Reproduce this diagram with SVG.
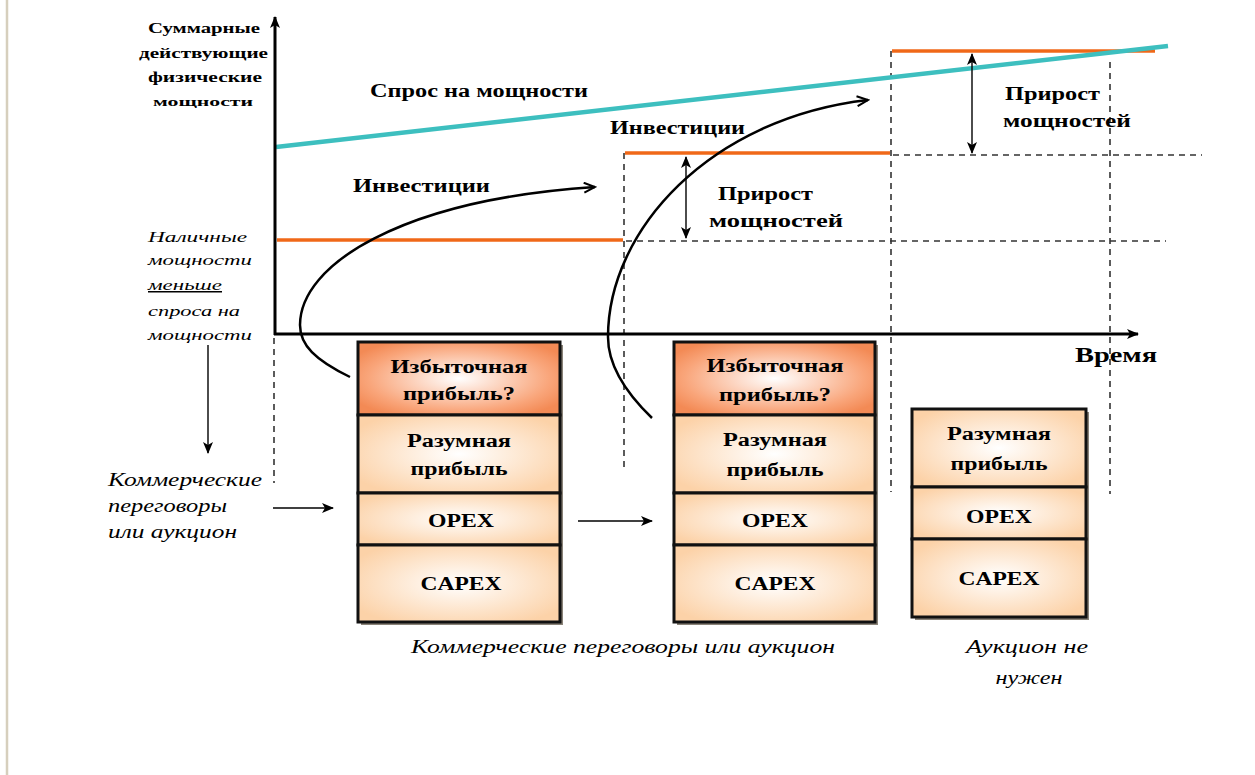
<svg xmlns="http://www.w3.org/2000/svg" width="1255" height="775" viewBox="0 0 1255 775">
<defs>
<style>
.b{font-family:"Liberation Serif","Times New Roman",serif;font-weight:bold;fill:#000}
.i{font-family:"Liberation Serif","Times New Roman",serif;font-style:italic;fill:#000}
.dash{stroke:#333;stroke-width:1.6;stroke-dasharray:6,5;fill:none}
.org{stroke:#f06818;stroke-width:3.5;fill:none}
.cell{fill:url(#peach);stroke:#111;stroke-width:3}
.top{fill:url(#hot);stroke:#111;stroke-width:3}
.curve{stroke:#000;stroke-width:2.5;fill:none}
.thin{stroke:#000;stroke-width:1.4;fill:none}
</style>
<radialGradient id="peach" cx="50%" cy="50%" r="60%">
<stop offset="0" stop-color="#ffffff"/>
<stop offset="1" stop-color="#fcd2a8"/>
</radialGradient>
<radialGradient id="hot" cx="50%" cy="50%" r="60%">
<stop offset="0" stop-color="#ffffff"/>
<stop offset="0.75" stop-color="#f9a57a"/>
<stop offset="1" stop-color="#f38a55"/>
</radialGradient>
<marker id="ah" markerWidth="12" markerHeight="10" refX="11" refY="5" orient="auto" markerUnits="userSpaceOnUse">
<path d="M0,0 L12,5 L0,10 L3,5 Z" fill="#000"/>
</marker>
<marker id="ahs" markerWidth="12" markerHeight="10" refX="1" refY="5" orient="auto" markerUnits="userSpaceOnUse">
<path d="M12,0 L0,5 L12,10 L9,5 Z" fill="#000"/>
</marker>
<marker id="open" markerWidth="14" markerHeight="12" refX="12" refY="6" orient="auto" markerUnits="userSpaceOnUse">
<path d="M1,1 L12,6 L1,11" fill="none" stroke="#000" stroke-width="2"/>
</marker>
</defs>
<rect width="1255" height="775" fill="#ffffff"/>
<line x1="7" y1="0" x2="7" y2="775" stroke="#d6cfbd" stroke-width="2.5"/>

<g id="guides">
<line class="dash" x1="274" y1="338" x2="274" y2="483"/>
<line class="dash" x1="624" y1="153" x2="624" y2="470"/>
<line class="dash" x1="891" y1="51" x2="891" y2="492"/>
<line class="dash" x1="1110" y1="62" x2="1110" y2="494"/>
<line class="dash" x1="626" y1="241" x2="1166" y2="241"/>
<line class="dash" x1="893" y1="155" x2="1202" y2="155"/>
</g>

<g id="capacity">
<line class="org" x1="277" y1="240" x2="623" y2="240"/>
<line class="org" x1="625" y1="153" x2="890" y2="153"/>
<line class="org" x1="892" y1="51" x2="1155" y2="51"/>
</g>

<g id="demand">
<line x1="276" y1="147" x2="1168" y2="46" stroke="#3dbfbf" stroke-width="4.5"/>
</g>

<g id="axes">
<line x1="275" y1="335" x2="275" y2="17" stroke="#000" stroke-width="3" marker-end="url(#ah)"/>
<line x1="274" y1="334" x2="1138" y2="334" stroke="#000" stroke-width="3" marker-end="url(#ah)"/>
</g>

<g id="connectors">
<path class="curve" d="M350,377 C315,360 300,345 300,325 C300,265 400,200 595,187" marker-end="url(#open)"/>
<path class="curve" d="M652,418 C625,392 608,365 608,337 C608,230 710,118 868,100" marker-end="url(#open)"/>
<line class="thin" x1="686" y1="157" x2="686" y2="238" marker-start="url(#ahs)" marker-end="url(#ah)"/>
<line class="thin" x1="972" y1="54" x2="972" y2="153" marker-start="url(#ahs)" marker-end="url(#ah)"/>
<line class="thin" x1="208" y1="345" x2="208" y2="453" marker-end="url(#ah)"/>
<line class="thin" x1="273" y1="508" x2="333" y2="508" marker-end="url(#ah)"/>
<line class="thin" x1="578" y1="521" x2="652" y2="521" marker-end="url(#ah)"/>
</g>

<g id="axis-labels">
<text class="b" x="148" y="33" font-size="15" textLength="112" lengthAdjust="spacingAndGlyphs">Суммарные</text>
<text class="b" x="139" y="58" font-size="15" textLength="129" lengthAdjust="spacingAndGlyphs">действующие</text>
<text class="b" x="148" y="82" font-size="15" textLength="114" lengthAdjust="spacingAndGlyphs">физические</text>
<text class="b" x="153" y="106" font-size="12" textLength="100" lengthAdjust="spacingAndGlyphs">мощности</text>
<text class="b" x="1075" y="362" font-size="22" textLength="82" lengthAdjust="spacingAndGlyphs">Время</text>
</g>

<g id="chart-labels">
<text class="b" x="370" y="97" font-size="18" textLength="218" lengthAdjust="spacingAndGlyphs">Спрос на мощности</text>
<text class="b" x="353" y="192" font-size="18" textLength="137" lengthAdjust="spacingAndGlyphs">Инвестиции</text>
<text class="b" x="610" y="134" font-size="18" textLength="135" lengthAdjust="spacingAndGlyphs">Инвестиции</text>
<text class="b" x="718" y="200" font-size="19" textLength="95" lengthAdjust="spacingAndGlyphs">Прирост</text>
<text class="b" x="709" y="227" font-size="19" textLength="134" lengthAdjust="spacingAndGlyphs">мощностей</text>
<text class="b" x="1005" y="100" font-size="19" textLength="95" lengthAdjust="spacingAndGlyphs">Прирост</text>
<text class="b" x="1003" y="127" font-size="19" textLength="128" lengthAdjust="spacingAndGlyphs">мощностей</text>
</g>

<g id="note-left">
<text class="i" x="148" y="242" font-size="15" textLength="99" lengthAdjust="spacingAndGlyphs">Наличные</text>
<text class="i" x="148" y="265" font-size="15" textLength="104" lengthAdjust="spacingAndGlyphs">мощности</text>
<text class="i" x="148" y="290" font-size="15" textLength="74" lengthAdjust="spacingAndGlyphs" text-decoration="underline">меньше</text>
<text class="i" x="148" y="316" font-size="15" textLength="92" lengthAdjust="spacingAndGlyphs">спроса на</text>
<text class="i" x="148" y="340" font-size="15" textLength="104" lengthAdjust="spacingAndGlyphs">мощности</text>
</g>

<g id="note-negotiation">
<text class="i" x="108" y="486" font-size="18" textLength="154" lengthAdjust="spacingAndGlyphs">Коммерческие</text>
<text class="i" x="108" y="512" font-size="18" textLength="119" lengthAdjust="spacingAndGlyphs">переговоры</text>
<text class="i" x="108" y="538" font-size="18" textLength="129" lengthAdjust="spacingAndGlyphs">или аукцион</text>
</g>

<g id="box1">
<rect x="361" y="345" width="202" height="280" fill="#8a8378"/>
<rect class="top" x="358" y="342" width="202" height="73"/>
<rect class="cell" x="358" y="415" width="202" height="78"/>
<rect class="cell" x="358" y="493" width="202" height="52"/>
<rect class="cell" x="358" y="545" width="202" height="77"/>
<text class="b" x="459" y="373" font-size="18" text-anchor="middle" textLength="137" lengthAdjust="spacingAndGlyphs">Избыточная</text>
<text class="b" x="459" y="400" font-size="18" text-anchor="middle" textLength="112" lengthAdjust="spacingAndGlyphs">прибыль?</text>
<text class="b" x="459" y="447" font-size="18" text-anchor="middle" textLength="104" lengthAdjust="spacingAndGlyphs">Разумная</text>
<text class="b" x="459" y="475" font-size="18" text-anchor="middle" textLength="97" lengthAdjust="spacingAndGlyphs">прибыль</text>
<text class="b" x="461" y="527" font-size="19" text-anchor="middle" textLength="66" lengthAdjust="spacingAndGlyphs">OPEX</text>
<text class="b" x="461" y="590" font-size="19" text-anchor="middle" textLength="81" lengthAdjust="spacingAndGlyphs">CAPEX</text>
</g>

<g id="box2">
<rect x="677" y="345" width="201" height="280" fill="#8a8378"/>
<rect class="top" x="674" y="342" width="201" height="73"/>
<rect class="cell" x="674" y="415" width="201" height="78"/>
<rect class="cell" x="674" y="493" width="201" height="52"/>
<rect class="cell" x="674" y="545" width="201" height="77"/>
<text class="b" x="775" y="372" font-size="18" text-anchor="middle" textLength="137" lengthAdjust="spacingAndGlyphs">Избыточная</text>
<text class="b" x="775" y="401" font-size="18" text-anchor="middle" textLength="112" lengthAdjust="spacingAndGlyphs">прибыль?</text>
<text class="b" x="775" y="446" font-size="18" text-anchor="middle" textLength="104" lengthAdjust="spacingAndGlyphs">Разумная</text>
<text class="b" x="775" y="476" font-size="18" text-anchor="middle" textLength="97" lengthAdjust="spacingAndGlyphs">прибыль</text>
<text class="b" x="775" y="527" font-size="19" text-anchor="middle" textLength="66" lengthAdjust="spacingAndGlyphs">OPEX</text>
<text class="b" x="775" y="590" font-size="19" text-anchor="middle" textLength="81" lengthAdjust="spacingAndGlyphs">CAPEX</text>
</g>

<g id="box3">
<rect x="915" y="412" width="174" height="208" fill="#8a8378"/>
<rect class="cell" x="912" y="409" width="174" height="78"/>
<rect class="cell" x="912" y="487" width="174" height="52"/>
<rect class="cell" x="912" y="539" width="174" height="78"/>
<text class="b" x="999" y="440" font-size="18" text-anchor="middle" textLength="104" lengthAdjust="spacingAndGlyphs">Разумная</text>
<text class="b" x="999" y="470" font-size="18" text-anchor="middle" textLength="97" lengthAdjust="spacingAndGlyphs">прибыль</text>
<text class="b" x="999" y="523" font-size="19" text-anchor="middle" textLength="66" lengthAdjust="spacingAndGlyphs">OPEX</text>
<text class="b" x="999" y="585" font-size="19" text-anchor="middle" textLength="81" lengthAdjust="spacingAndGlyphs">CAPEX</text>
</g>

<g id="bottom-labels">
<text class="i" x="411" y="653" font-size="18" textLength="424" lengthAdjust="spacingAndGlyphs">Коммерческие переговоры или аукцион</text>
<text class="i" x="1027" y="653" font-size="18" text-anchor="middle" textLength="122" lengthAdjust="spacingAndGlyphs">Аукцион не</text>
<text class="i" x="1029" y="684" font-size="18" text-anchor="middle" textLength="67" lengthAdjust="spacingAndGlyphs">нужен</text>
</g>
</svg>
